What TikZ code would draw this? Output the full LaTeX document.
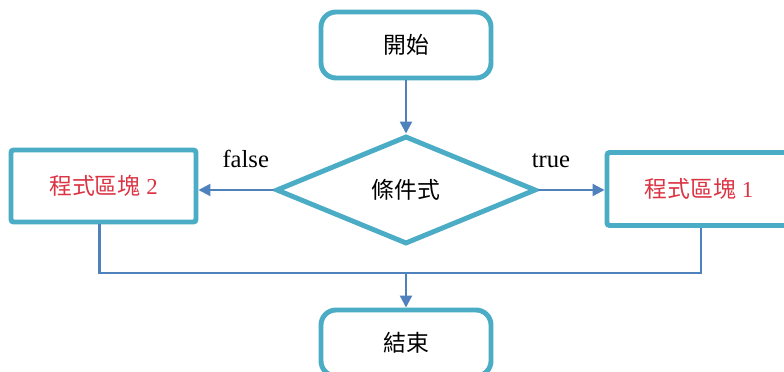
\documentclass[tikz,border=0pt]{standalone}
\usepackage{fontspec}
\setmainfont{Liberation Serif}
\newfontfamily\cjk{Noto Sans CJK TC}
\usetikzlibrary{arrows.meta,shapes.geometric}
\definecolor{boxColor}{HTML}{4BACC6}
\definecolor{arrowColor}{HTML}{4F81BD}
\definecolor{blockColor}{HTML}{DC3444}

\begin{document}
\begin{tikzpicture}[
    term/.style={draw=boxColor,line width=2.8pt,rounded corners=0.3cm,fill=white,
        minimum width=3.4cm,minimum height=1.32cm,font=\fontsize{13}{15}\selectfont\cjk},
    block/.style={draw=boxColor,line width=2.8pt,rounded corners=1.5pt,fill=white,
        minimum width=3.7cm,minimum height=1.44cm,text=blockColor,font=\fontsize{13}{15}\selectfont},
    cond/.style={draw=boxColor,line width=2.8pt,diamond,inner sep=0pt,fill=white,
        minimum width=5.2cm,minimum height=2.16cm,font=\fontsize{13}{15}\selectfont\cjk},
    flow/.style={draw=arrowColor,line width=1.3pt,-{Triangle[length=0.24cm,width=0.24cm]}},
    link/.style={draw=arrowColor,line width=1.3pt},
    lbl/.style={font=\fontsize{14}{16}\selectfont,inner sep=0pt}]
\fill[white] (0,0) rectangle (15.68,7.42);
\useasboundingbox (0,0) rectangle (15.68,7.42);
\clip (0,0) rectangle (15.68,7.42);
\node[term] (start) at (8.12,6.52) {開始};
\node[cond] (test) at (8.12,3.62) {條件式};
\node[block] (blk2) at (2.07,3.7) {{\cjk 程式區塊} 2};
\node[block, minimum width=3.68cm, minimum height=1.46cm] (blk1) at (13.98,3.64) {{\cjk 程式區塊} 1};
\node[term] (stop) at (8.12,0.56) {結束};
\coordinate (merge) at (stop.north |- 0,1.96);
\draw[flow] (start) -- (test);
\draw[flow] (test.west) -- (blk2.east |- test.west) node[lbl, pos=0.37, above=0.42cm] {false};
\draw[flow] (test.east) -- (blk1.west |- test.east) node[lbl, pos=0.19, above=0.42cm] {true};
\draw[link] ([xshift=-0.08cm]blk2.south) |- (merge) -| ([xshift=0.04cm]blk1.south);
\draw[flow] (merge) -- (stop);
\end{tikzpicture}
\end{document}
